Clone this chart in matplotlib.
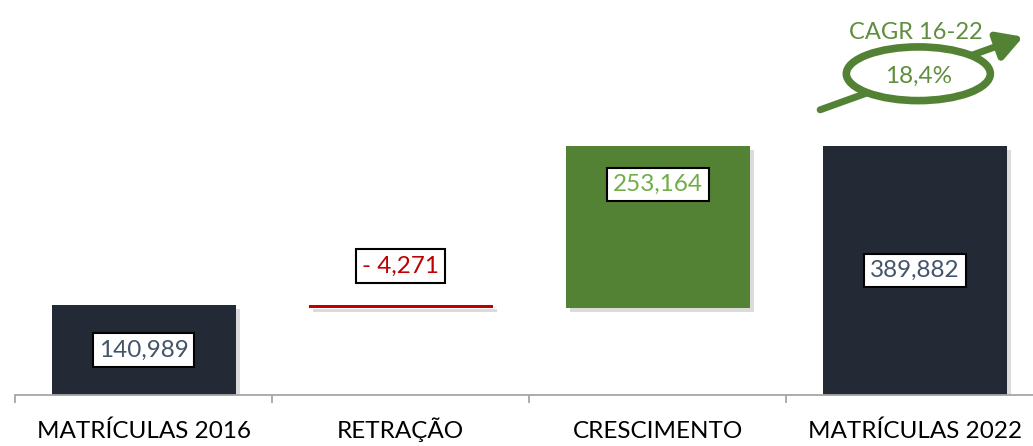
import numpy as np
import matplotlib.pyplot as plt
import matplotlib.patheffects as pe
from matplotlib.patches import Ellipse

plt.rcParams['font.family'] = ['Lato', 'DejaVu Sans']

categories = ["MATRÍCULAS 2016", "RETRAÇÃO", "CRESCIMENTO", "MATRÍCULAS 2022"]
start_2016 = 140989
retracao = -4271
crescimento = 253164
final_2022 = 389882
cagr_label = "CAGR 16-22"
cagr_value = "18,4%"

# waterfall: heights and bottoms
heights = [start_2016, -retracao, crescimento, final_2022]
bottoms = [0, start_2016 + retracao, start_2016 + retracao, 0]
bar_colors = ['#232a35', '#c00000', '#548235', '#232a35']
labels = ["140,989", "- 4,271", "253,164", "389,882"]
label_colors = ['#44546a', '#c00000', '#70ad47', '#44546a']

fig = plt.figure(figsize=(10.33, 4.46), dpi=100)
ax = fig.add_axes([15 / 1033, 51 / 446, 1 - 15 / 1033, 395 / 446])

x = np.arange(len(categories))
shadow = [pe.SimplePatchShadow(offset=(3, -3), shadow_rgbFace='#999999', alpha=0.35), pe.Normal()]
bars = ax.bar(x, heights, bottom=bottoms, width=0.716, color=bar_colors, zorder=2)
for b in bars:
    b.set_path_effects(shadow)

ax.set_xlim(-0.5, 3.46)
ax.set_ylim(0, 618000)

for s in ['top', 'right', 'left']:
    ax.spines[s].set_visible(False)
ax.spines['bottom'].set_color('#a6a6a6')
ax.spines['bottom'].set_linewidth(1.3)
ax.set_yticks([])
ax.set_xticks(x)
ax.set_xticklabels([])
ax.tick_params(axis='x', which='major', length=0)
ax.set_xticks(np.arange(-0.5, 3, 1), minor=True)
ax.tick_params(axis='x', which='minor', length=6, width=1.3, color='#a6a6a6', direction='out')

# category names, all on one baseline
for xi, name in zip(x, categories):
    ax.text(xi, -43 / 395, name, transform=ax.get_xaxis_transform(), ha='center',
            va='baseline', fontsize=17.5, color='black')

box = dict(boxstyle='square,pad=0.25', fc='white', ec='black', lw=1.5)
# centered labels for the total bars
ax.text(0, start_2016 / 2, labels[0], ha='center', va='center', fontsize=17.5,
        color=label_colors[0], bbox=box, zorder=4)
ax.text(3, final_2022 / 2, labels[3], ha='center', va='center', fontsize=17.5,
        color=label_colors[3], bbox=box, zorder=4)
ax.annotate(labels[1], (1, start_2016), xytext=(0, 28), textcoords='offset points',
            ha='center', va='center', fontsize=17.5, color=label_colors[1], bbox=box, zorder=4)
ax.annotate(labels[2], (2, final_2022), xytext=(0, -28), textcoords='offset points',
            ha='center', va='center', fontsize=17.5, color=label_colors[2], bbox=box, zorder=4)

# CAGR callout
green = '#548235'
ax.annotate('', xy=(3.422, 560500), xytext=(2.632, 446200),
            arrowprops=dict(arrowstyle='-|>,head_length=1.5,head_width=0.85', lw=5,
                            color=green, shrinkA=0, shrinkB=0),
            annotation_clip=False, zorder=5)
ell = Ellipse((3.014, 502600), 0.56, 84000, fc='white', ec=green, lw=5.5,
              zorder=6, clip_on=False)
ax.add_patch(ell)
ax.text(3.014, 497900, cagr_value, ha='center', va='center', fontsize=17.5,
        color='#5e8e3e', zorder=7)
ax.text(3.005, 566800, cagr_label, ha='center', va='center', fontsize=17,
        color='#5e8e3e', zorder=7)

fig.savefig('out.png', dpi=100)
